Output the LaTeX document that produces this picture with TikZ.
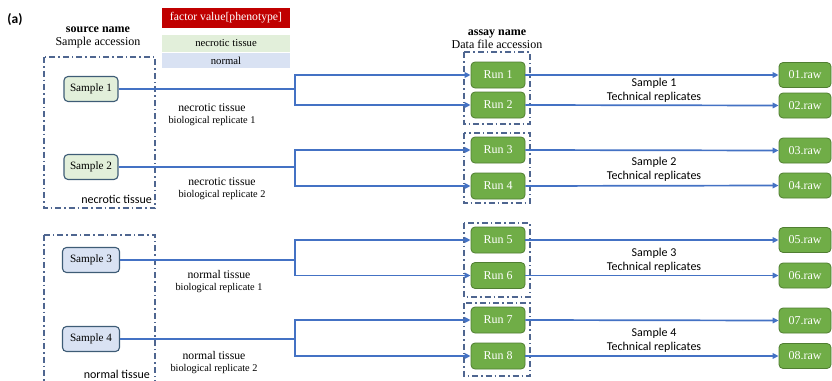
\documentclass[tikz,border=0pt]{standalone}
\usepackage{fontspec}
\setmainfont{Liberation Serif}
\newfontfamily\calib{Carlito}
\usetikzlibrary{arrows.meta}
\definecolor{lineblue}{HTML}{4472C4}
\definecolor{grpcol}{HTML}{4F6690}
\definecolor{sampborder}{HTML}{3E5C76}
\definecolor{necfill}{HTML}{E2EFDA}
\definecolor{norfill}{HTML}{D9E2F3}
\definecolor{rungreen}{HTML}{70AD47}
\definecolor{runborder}{HTML}{507E32}
\definecolor{redbox}{HTML}{C00000}
\newcommand{\lblbig}{\fontsize{11.7}{13}\selectfont}
\newcommand{\lblsml}{\fontsize{10.3}{13}\selectfont}
\tikzset{
  samp/.style={draw=sampborder, line width=1.1pt, rounded corners=4pt, minimum width=54pt, minimum height=25pt, inner sep=1pt, font=\fontsize{11.2}{12}\selectfont},
  runbox/.style={draw=runborder, fill=rungreen, line width=0.8pt, rounded corners=4pt, minimum width=54pt, minimum height=26pt, inner sep=1pt, text=white, font=\fontsize{12}{12}\selectfont},
  rawbox/.style={runbox, minimum width=52pt, minimum height=25pt},
  grp/.style={draw=grpcol, line width=1.1pt, dash pattern=on 6pt off 3pt on 1.5pt off 3pt},
  conn/.style={draw=lineblue, line width=1.7pt},
  arr/.style={conn, -{Triangle[length=6pt,width=5.5pt]}},
  lbl/.style={align=center, inner sep=0pt},
  slbl/.style={align=center, font=\calib\fontsize{12}{14}\selectfont, inner sep=0pt},
  hdr/.style={align=center, font=\fontsize{12}{13}\selectfont, inner sep=0pt},
  legend/.style={minimum width=128pt, minimum height=17pt, inner sep=0pt, font=\fontsize{10.7}{12}\selectfont}
}
\begin{document}
\begin{tikzpicture}[x=1pt,y=-1pt]
\useasboundingbox (0,0) rectangle (832,380);
% title
\node[font=\calib\bfseries\fontsize{13.5}{14}\selectfont, inner sep=0pt] (tag) at (15,20) {(a)};
\node[hdr] (srchdr) at (98,37.5) {\textbf{source name}\\Sample accession};
\node[hdr] (assayhdr) at (497,39) {\textbf{assay name}\\Data file accession};
% legend
\node[legend, fill=redbox, text=white, minimum height=20pt, font=\fontsize{11.7}{12}\selectfont] (lgred) at (226,18) {factor value[phenotype]};
\node[legend, fill=necfill] (lgnec) at (226,43.5) {necrotic tissue};
\node[legend, fill=norfill, minimum height=15pt] (lgnor) at (226,60.5) {normal};
% sample groups
\draw[grp] (44,57) rectangle (155,208);
\draw[grp] (44,235) rectangle (155,390);
\node[slbl, anchor=east] (grpnec) at (152,199) {necrotic tissue};
\node[slbl, anchor=east] (grpnor) at (150,374) {normal tissue};
% samples
\node[samp, fill=necfill] (s1) at (91,89) {Sample 1};
\node[samp, fill=necfill] (s2) at (91,167) {Sample 2};
\node[samp, fill=norfill, minimum width=57pt] (s3) at (91,260) {Sample 3};
\node[samp, fill=norfill, minimum width=57pt] (s4) at (91,339) {Sample 4};
% run groups
\draw[grp] (464,52) rectangle (530,124);
\draw[grp] (464,133) rectangle (530,203);
\draw[grp] (464,223) rectangle (530,297);
\draw[grp] (464,303) rectangle (530,376);
% runs
\node[runbox] (r1) at (498,75) {Run 1};
\node[runbox] (r2) at (498,105) {Run 2};
\node[runbox] (r3) at (498,150) {Run 3};
\node[runbox] (r4) at (498,186) {Run 4};
\node[runbox] (r5) at (498,240) {Run 5};
\node[runbox] (r6) at (498,275.5) {Run 6};
\node[runbox] (r7) at (498,320) {Run 7};
\node[runbox] (r8) at (498,356) {Run 8};
% raw files
\node[rawbox] (f1) at (805,75) {01.raw};
\node[rawbox] (f2) at (805,105.5) {02.raw};
\node[rawbox] (f3) at (805,150.5) {03.raw};
\node[rawbox] (f4) at (805,185.5) {04.raw};
\node[rawbox] (f5) at (805,240) {05.raw};
\node[rawbox] (f6) at (805,275.5) {06.raw};
\node[rawbox] (f7) at (805,320.5) {07.raw};
\node[rawbox] (f8) at (805,356) {08.raw};
% junctions
\coordinate (j1) at (295,89);
\coordinate (j2) at (295,167);
\coordinate (j3) at (295,260);
\coordinate (j4) at (295,339);
\draw[conn] (s1.east) -- (j1);
\draw[conn] (s2.east) -- (j2);
\draw[conn] (s3.east) -- (j3);
\draw[conn] (s4.east) -- (j4);
\draw[arr] (j1) |- (r1.west);
\draw[arr] (j1) |- (r2.west);
\draw[arr] (j2) |- (r3.west);
\draw[arr] (j2) |- (r4.west);
\draw[arr] (j3) |- (r5.west);
\draw[arr] (j3) |- (r6.west);
\draw[arr] (j4) |- (r7.west);
\draw[arr] (j4) |- (r8.west);
\foreach \i in {1,...,8} {\draw[arr] (r\i.east) -- (f\i.west);}
% labels
\node[lbl] (b1) at (212,115) {{\lblbig necrotic tissue}\\{\lblsml biological replicate 1}};
\node[lbl] (b2) at (222,188.5) {{\lblbig necrotic tissue}\\{\lblsml biological replicate 2}};
\node[lbl] (b3) at (219,282) {{\lblbig normal tissue}\\{\lblsml biological replicate 1}};
\node[lbl] (b4) at (214,362.5) {{\lblbig normal tissue}\\{\lblsml biological replicate 2}};
\node[slbl] (t1) at (654,90) {Sample 1\\Technical replicates};
\node[slbl] (t2) at (654,169) {Sample 2\\Technical replicates};
\node[slbl] (t3) at (654,260) {Sample 3\\Technical replicates};
\node[slbl] (t4) at (654,340) {Sample 4\\Technical replicates};
\end{tikzpicture}
\end{document}
